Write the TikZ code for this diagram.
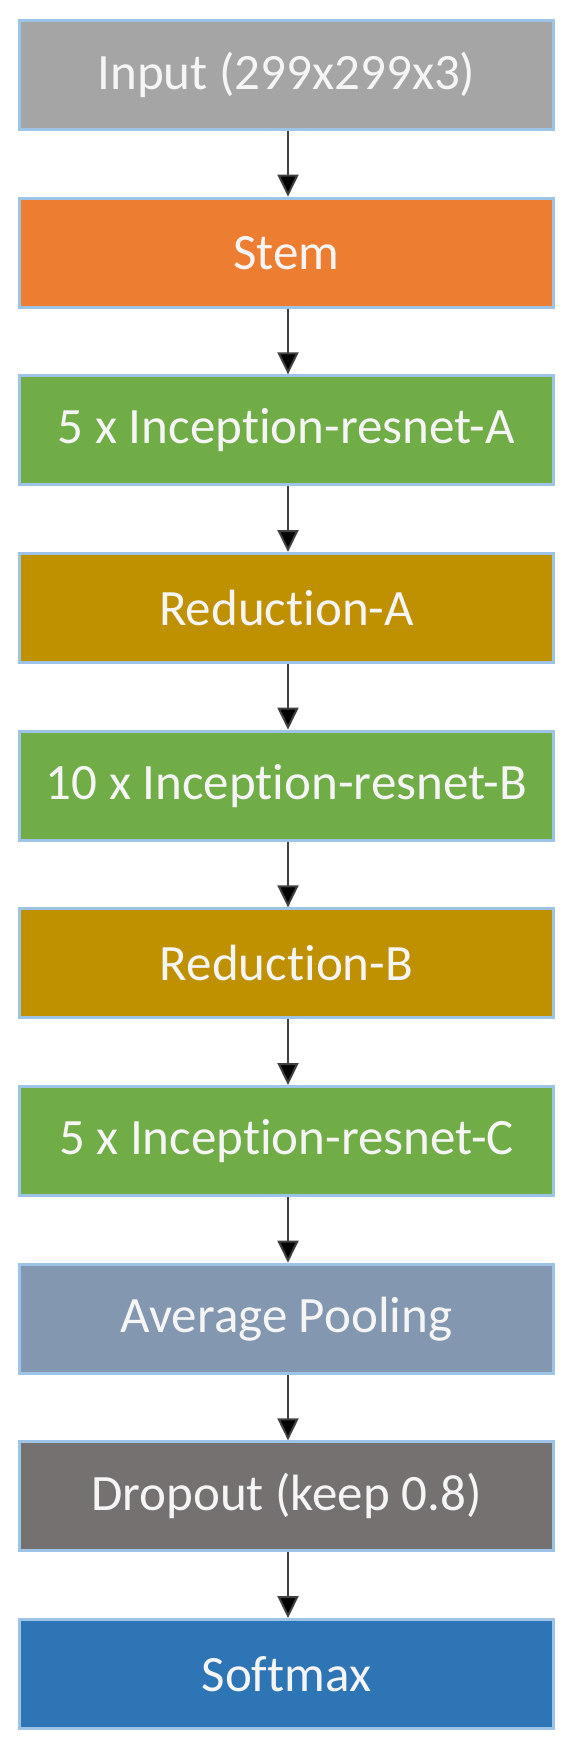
\documentclass[tikz,border=0pt]{standalone}
\usepackage{fontspec}
\setmainfont{Carlito}[Ligatures=NoCommon]
\usetikzlibrary{arrows.meta}
\definecolor{cinput}{HTML}{A5A5A5}
\definecolor{cstem}{HTML}{ED7D31}
\definecolor{cgreen}{HTML}{70AD47}
\definecolor{cgold}{HTML}{BF9000}
\definecolor{cpool}{HTML}{8497B0}
\definecolor{cdrop}{HTML}{767171}
\definecolor{csoft}{HTML}{2E75B6}
\definecolor{cborder}{HTML}{9DC3E6}
\tikzset{
  layerbox/.style={draw=cborder, line width=3pt, fill=#1, minimum width=534pt, minimum height=109pt,
    inner sep=0pt, text=white!96!black, font=\fontsize{51pt}{60pt}\selectfont},
  flowarrow/.style={line width=2pt, draw=black!75, -{Triangle[width=21pt,length=22pt,fill=black]}}
}
\begin{document}
\begin{tikzpicture}[x=1pt,y=1pt]
\useasboundingbox (0,0) rectangle (575,-1754);
\def\pitch{177.67}
\def\cx{286.5}
\node[layerbox=cinput] (n0) at (\cx,{-(75)}) {Input (299x299x3)};
\node[layerbox=cstem]  (n1) at (\cx,{-(75+1*\pitch)}) {Stem};
\node[layerbox=cgreen] (n2) at (\cx,{-(75+2*\pitch)}) {5 x Inception-resnet-A};
\node[layerbox=cgold]  (n3) at (\cx,{-(75+3*\pitch)}) {Reduction-A};
\node[layerbox=cgreen] (n4) at (\cx,{-(75+4*\pitch)}) {10 x Inception-resnet-B};
\node[layerbox=cgold]  (n5) at (\cx,{-(75+5*\pitch)}) {Reduction-B};
\node[layerbox=cgreen] (n6) at (\cx,{-(75+6*\pitch)}) {5 x Inception-resnet-C};
\node[layerbox=cpool]  (n7) at (\cx,{-(75+7*\pitch)}) {Average Pooling};
\node[layerbox=cdrop]  (n8) at (\cx,{-(75+8*\pitch)}) {Dropout (keep 0.8)};
\node[layerbox=csoft]  (n9) at (\cx,{-(75+9*\pitch)}) {Softmax};
\foreach \a/\b in {n0/n1,n1/n2,n2/n3,n3/n4,n4/n5,n5/n6,n6/n7,n7/n8,n8/n9}
  \draw[flowarrow] ([xshift=1.5pt]\a.south) -- ([xshift=1.5pt]\b.north);
\end{tikzpicture}
\end{document}
